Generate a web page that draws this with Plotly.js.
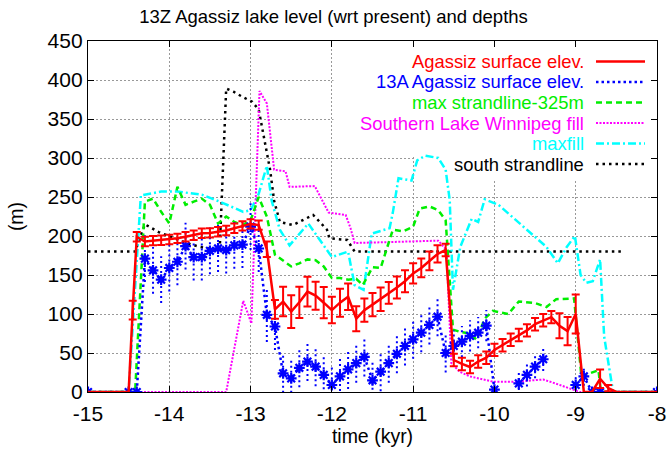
<!DOCTYPE html>
<html><head><meta charset="utf-8">
<script src="https://cdn.plot.ly/plotly-3.0.1.min.js"></script>
<style>html,body{margin:0;padding:0;background:#fff}#chart{width:667px;height:451px}</style>
</head><body><div id="chart"></div>
<script>
// ---------- data ----------
const seriesNames = ['Agassiz surface elev.', '13A Agassiz surface elev.', 'max strandline-325m',
  'Southern Lake Winnipeg fill', 'maxfill', 'south strandline'];
const xTickVals = [-15, -14, -13, -12, -11, -10, -9, -8];
const xTickText = ['-15', '-14', '-13', '-12', '-11', '-10', '-9', '-8'];
const yTickVals = [0, 50, 100, 150, 200, 250, 300, 350, 400, 450];

// Agassiz surface elev. (red, with error bars)
const redX = [-15, -14.5, -14.45, -14.4, -14.3, -14.2, -14.1, -14.0, -13.9, -13.8, -13.7, -13.6, -13.5, -13.4,
  -13.3, -13.2, -13.1, -13.0, -12.9, -12.8, -12.7, -12.6, -12.5, -12.4, -12.3, -12.2, -12.1, -12.0, -11.9,
  -11.8, -11.7, -11.6, -11.5, -11.4, -11.3, -11.2, -11.1, -11.0, -10.9, -10.8, -10.7, -10.6, -10.5, -10.4,
  -10.3, -10.2, -10.1, -10.0, -9.9, -9.8, -9.7, -9.6, -9.5, -9.4, -9.3, -9.2, -9.1, -9.0, -8.9, -8.8, -8.7,
  -8.6, -8.5, -8.0];
const redY = [0, 0, 105, 199, 193, 194, 194.5, 195.5, 197, 199, 201, 203.5, 204, 205.5,
  207, 210, 213, 215.5, 214, 183, 106, 116, 103, 115, 128.6, 123.5, 114.5, 105, 114.5,
  122, 94, 105, 112, 119, 127, 134, 142, 152, 159, 168, 177, 182, 41, 36,
  32, 39, 44, 54, 60, 67, 73, 79, 87, 92, 96, 85, 78, 100, 0, 0, 17,
  5, 0, 0];
const redErr = [null, null, 12, 6, 6, 6, 6, 6, 6, 6, 6, 6, 6, 6,
  6, 6, 6, 6, 6, 10, 12, 19, 21, 20, 19, 18, 20, 17, 18,
  17, 16, 15, 15, 15, 14, 14, 14, 13, 12, 12, 11, 8, 8, 8,
  8, 8, 8, 8, 8, 8, 8, 8, 8, 8, 8, 16, 18, 25, null, null, 12,
  4, null, null];

// 13A Agassiz surface elev. (blue, with error bars)
const blueX = [-15, -14.5, -14.4, -14.3, -14.2, -14.1, -14.0, -13.9, -13.8, -13.7, -13.6, -13.5, -13.4, -13.3,
  -13.2, -13.1, -13.0, -12.9, -12.8, -12.7, -12.6, -12.5, -12.4, -12.3, -12.2, -12.1, -12.0, -11.9, -11.8,
  -11.7, -11.6, -11.5, -11.4, -11.3, -11.2, -11.1, -11.0, -10.9, -10.8, -10.7, -10.6, -10.5, -10.4, -10.3,
  -10.2, -10.1, -10.0, -9.9, -9.8, -9.7, -9.6, -9.5, -9.4, -9.3, -9.2, -9.1, -9.0, -8.9, -8.8, -8.7, -8.0];
const blueY = [0, 0, 0, 171, 156, 144, 159, 167, 187, 173, 173, 181, 184, 182,
  188, 189, 212, 184, 99, 84, 24, 17.5, 31, 39, 32.5, 22, 9, 20, 29,
  37, 45, 15, 26, 37, 49, 59, 67.5, 76, 86, 96.5, 50, 59, 64.5, 72,
  76, 85, 3, null, null, 11, 22, 32.5, 42, null, null, null, 9, 20, 0, 0, 0];
const blueErr = [null, null, null, 30, 30, 30, 30, 30, 30, 30, 30, 30, 30, 30,
  30, 30, 30, 30, 35, 30, 25, 25, 25, 25, 25, 25, 25, 25, 25,
  25, 25, 25, 25, 25, 25, 25, 25, 25, 25, 25, 25, 20, 20, 20,
  20, 20, null, null, null, 15, 15, 15, 15, null, null, null, 12, 12, null, null, null];

// max strandline-325m (green)
const greenX = [-15, -14.42, -14.3, -14.2, -14.1, -14.0, -13.9, -13.8, -13.7, -13.6, -13.5, -13.4, -13.3,
  -13.2, -13.1, -13.0, -12.9, -12.8, -12.7, -12.6, -12.5, -12.4, -12.3, -12.2, -12.1, -12.0, -11.9, -11.8,
  -11.7, -11.62, -11.5, -11.4, -11.25, -11.12, -11.0, -10.92, -10.8, -10.69, -10.6, -10.51, -10.42, -10.3,
  -10.22, -10.12, -10.02, -9.83, -9.7, -9.5, -9.36, -9.24, -9.02, -8.93, -8.72, -8.69, -8.0];
const greenY = [0, 0, 244, 248, 231, 216, 263, 240, 244, 248, 240, 216, 225,
  218, 214, 220, 250, 225, 176, 169, 161, 165, 170, 169, 161, 146, 146, 144,
  145, 137, 160, 159, 208, 206, 212, 235, 238, 233, 220, 80, 77, 75,
  67, 94, 104, 100, 116, 114, 109, 119, 120, 20, 28, 0, 0];

// Southern Lake Winnipeg fill (magenta)
const magX = [-15, -13.3, -13.09, -12.99, -12.89, -12.8, -12.71, -12.57, -12.52, -12.21, -12.04, -11.83,
  -11.77, -11.72, -10.69, -10.59, -10.53, -10.43, -10.3, -10.01, -9.77, -9.4, -9.25, -9.1, -9.01, -8.95, -8.0];
const magY = [0, 0, 117, 88, 386, 370, 285, 283, 263, 264, 230, 227,
  210, 191, 194, 182, 37, 26, 20, 13, 13, 16, 11, 5, 1.5, 0, 0];

// maxfill (cyan)
const cyanX = [-15, -14.5, -14.35, -14.1, -13.9, -13.6, -13.38, -13.09, -13.0, -12.9, -12.8, -12.74, -12.64,
  -12.52, -12.29, -12.0, -11.8, -11.72, -11.61, -11.51, -11.29, -11.25, -11.18, -11.02, -10.95, -10.85,
  -10.69, -10.6, -10.55, -10.51, -10.42, -10.28, -10.2, -10.12, -9.95, -9.65, -9.36, -9.22, -9.11, -9.01,
  -8.94, -8.87, -8.79, -8.7, -8.65, -8.54, -8.0];
const cyanY = [0, 0, 252, 257, 257, 253, 244, 231, 233, 254, 290, 245, 208,
  188, 216, 173, 180, 137, 131, 203, 210, 230, 274, 271, 297, 303,
  300, 285, 246, 131, 186, 222, 218, 247, 240, 212, 186, 165, 186, 200,
  150, 140, 142, 170, 71, 0, 0];

// south strandline (black)
const blackX = [-15, -14.5, -14.42, -14.3, -14.13, -13.79, -13.62, -13.42, -13.38, -13.3, -13.21, -13.11,
  -12.98, -12.9, -12.84, -12.76, -12.71, -12.64, -12.48, -12.23, -12.06, -12.03, -11.81, -11.72, -8.42];
const blackY = [180, 180, 180, 215, 205, 191, 186, 182, 182, 389, 385, 379,
  372, 362, 327, 285, 245, 218, 214, 227, 208, 197, 195, 180, 180];

// ---------- build ----------
const toNaN = a => a.map(v => (v === null ? NaN : v));
const ebX = [], ebY = [];
blueX.forEach((x, i) => {
  const v = blueY[i], e = blueErr[i];
  if (v !== null && e !== null) { ebX.push(x, x, null); ebY.push(v - e, v + e, null); }
});

const FONT = 'Liberation Sans, Arial, Helvetica, sans-serif';
const colors = ['#ff0000', '#0000ff', '#00ee00', '#ff00ff', '#00ffff', '#000000'];

const traces = [
  {x: blackX, y: blackY, mode: 'lines', line: {color: colors[5], width: 2.5, dash: '2.5px,4px'}},
  {x: cyanX, y: cyanY, mode: 'lines', line: {color: colors[4], width: 2.5, dash: '8px,3px,2px,3px'}},
  {x: magX, y: magY, mode: 'lines', line: {color: colors[3], width: 2, dash: '2px,1.5px'}},
  {x: greenX, y: greenY, mode: 'lines', line: {color: colors[2], width: 2.5, dash: '6px,4px'}},
  {x: ebX, y: ebY, mode: 'lines', line: {color: colors[1], width: 2, dash: '2px,3px'}, connectgaps: false},
  {x: blueX, y: blueY, mode: 'lines+markers', connectgaps: false,
   line: {color: colors[1], width: 2.5, dash: '2.5px,3px'},
   marker: {symbol: 'asterisk-open', size: 9, color: colors[1], line: {color: colors[1], width: 2.2}}},
  {x: redX, y: redY, mode: 'lines', line: {color: colors[0], width: 2.5},
   error_y: {type: 'data', array: toNaN(redErr), visible: true, color: colors[0], thickness: 2, width: 4}}
];

// manual gnuplot-style key: text right-aligned, sample line to the right
const keyRows = [61.5, 82, 102.5, 123, 143.5, 164];
const keyDash = ['solid', '2.5px,3px', '6px,4px', '2px,1.5px', '8px,3px,2px,3px', '2.5px,4px'];
const py2paper = p => (392 - p) / 351;
const px2paper = p => (p - 88) / 569;
const annotations = seriesNames.map((n, i) => ({
  text: n, xref: 'paper', yref: 'paper', x: px2paper(586), y: py2paper(keyRows[i]),
  xanchor: 'right', yanchor: 'middle', showarrow: false,
  font: {family: FONT, size: 18.4, color: colors[i]}
}));
const shapes = [
  {type: 'rect', layer: 'between', xref: 'x', yref: 'y', x0: -11.98, x1: -8, y0: 303, y1: 450,
   fillcolor: '#ffffff', line: {width: 0}},
  {type: 'rect', layer: 'between', xref: 'x', yref: 'y', x0: -10.98, x1: -8, y0: 272, y1: 450,
   fillcolor: '#ffffff', line: {width: 0}}
];
keyRows.forEach((r, i) => {
  shapes.push({type: 'line', xref: 'paper', yref: 'paper', x0: px2paper(596), x1: px2paper(645),
    y0: py2paper(r), y1: py2paper(r), line: {color: colors[i], width: i === 3 ? 2 : 2.5, dash: keyDash[i]}});
});

const axisCommon = {
  showline: true, linecolor: '#000', linewidth: 1.2, mirror: 'allticks',
  ticks: 'inside', ticklen: 6, tickcolor: '#000', tickwidth: 1,
  showgrid: true, gridcolor: '#999', griddash: '2px,2px', gridwidth: 1,
  zeroline: false, tickfont: {family: FONT, size: 21, color: '#000'}
};

const layout = {
  width: 667, height: 451,
  margin: {l: 88, r: 10, t: 41, b: 59},
  paper_bgcolor: '#fff', plot_bgcolor: '#fff',
  showlegend: false,
  font: {family: FONT, color: '#000'},
  title: {text: '13Z Agassiz lake level (wrt present) and depths', font: {family: FONT, size: 18.5, color: '#000'},
    x: 0.5, xref: 'container', xanchor: 'center', y: 1 - 17 / 451, yref: 'container', yanchor: 'middle'},
  xaxis: Object.assign({}, axisCommon, {range: [-15, -8], tickvals: xTickVals, ticktext: xTickText,
    ticklabelstandoff: 3,
    title: {text: 'time (kyr)', font: {family: FONT, size: 19.5}, standoff: 4}}),
  yaxis: Object.assign({}, axisCommon, {range: [0, 450], tickvals: yTickVals,
    title: {text: '(m)', font: {family: FONT, size: 19.5}, standoff: 18}}),
  annotations: annotations,
  shapes: shapes
};

Plotly.newPlot('chart', traces, layout, {staticPlot: true, displayModeBar: false});
</script>
</body></html>
